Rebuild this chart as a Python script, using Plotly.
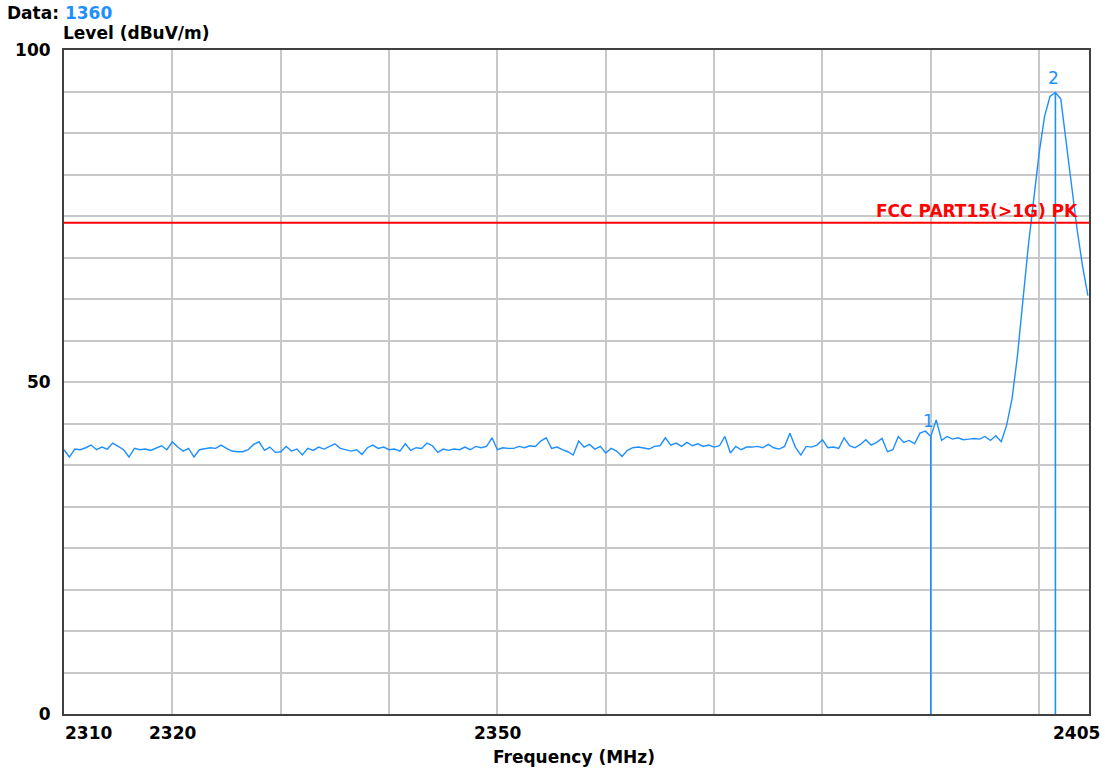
import plotly.graph_objects as go

# ---------------- data ----------------
sweep_start_mhz = 2310.0
sweep_step_mhz = 0.5

level_2310 = [39.8, 38.7, 39.9, 39.8, 40.1, 40.5, 39.8, 40.2, 39.9, 40.8,
              40.3, 39.8, 38.7, 40.0, 39.8, 39.9, 39.7, 40.1, 40.4, 39.8]
level_2320 = [41.0, 40.2, 39.6, 40.0, 38.7, 39.8, 39.9, 40.1, 40.0, 40.5,
              40.0, 39.6, 39.5, 39.5, 39.8, 40.6, 41.0, 39.7, 40.2, 39.4]
level_2330 = [39.5, 40.3, 39.6, 39.9, 39.0, 40.0, 39.7, 40.2, 39.9, 40.3,
              40.7, 40.0, 39.8, 39.6, 39.8, 39.1, 40.1, 40.5, 40.0, 40.2]
level_2340 = [39.8, 39.9, 39.6, 40.7, 39.7, 40.1, 40.0, 40.8, 40.4, 39.4,
              39.9, 39.7, 39.9, 39.8, 40.2, 39.8, 40.3, 40.1, 40.3, 41.6]
level_2350 = [39.8, 40.1, 40.0, 40.0, 40.3, 40.1, 40.4, 40.3, 41.1, 41.6,
              40.0, 40.2, 39.8, 39.5, 39.0, 41.1, 40.2, 40.6, 39.9, 40.3]
level_2360 = [39.3, 40.0, 39.6, 38.8, 39.7, 40.1, 40.2, 40.1, 39.9, 40.3,
              40.4, 41.6, 40.5, 40.8, 40.3, 40.9, 40.4, 40.7, 40.3, 40.5]
level_2370 = [40.2, 40.4, 41.8, 39.3, 40.3, 39.8, 40.2, 40.2, 40.3, 40.1,
              40.6, 40.1, 39.9, 40.3, 42.3, 40.2, 39.0, 40.3, 40.2, 40.5]
level_2380 = [41.3, 40.1, 40.2, 40.0, 41.6, 40.4, 40.1, 40.6, 41.3, 40.5,
              40.9, 41.5, 39.5, 39.8, 41.8, 40.9, 41.2, 40.7, 42.3, 42.6]
level_2390 = [41.8, 44.3, 41.2, 41.8, 41.4, 41.6, 41.3, 41.4, 41.5, 41.4,
              41.8, 41.2, 41.9, 41.0, 43.5, 47.5, 54.0, 62.3, 70.5, 77.5]
level_2400 = [84.5, 90.0, 93.0, 93.6, 92.6, 86.0, 79.5, 73.0, 67.5, 63.0]

level = (level_2310 + level_2320 + level_2330 + level_2340 + level_2350 +
         level_2360 + level_2370 + level_2380 + level_2390 + level_2400)
freq = [sweep_start_mhz + sweep_step_mhz * i for i in range(len(level))]

limit_name = "FCC PART15(>1G) PK"
limit_level = 74.0

marker_ids = ["1", "2"]
marker_freq = [2390.0, 2401.5]
marker_level = [41.8, 93.6]

x_range = [2310.0, 2404.6]
y_range = [0, 100]
x_grid = [2310, 2320, 2330, 2340, 2350, 2360, 2370, 2380, 2390, 2400]
y_grid = [0, 6.25, 12.5, 18.75, 25, 31.25, 37.5, 43.75, 50, 56.25, 62.5,
          68.75, 75, 81.25, 87.5, 93.75, 100]
x_tick_vals = [2310, 2320, 2350, 2405]
x_tick_text = ["2310", "2320", "2350", "2405"]
y_tick_vals = [0, 50, 100]
y_tick_text = ["0", "50", "100"]

data_label = "Data:"
data_number = "1360"
y_title = "Level (dBuV/m)"
x_title = "Frequency (MHz)"

# ---------------- style ----------------
FONT = "DejaVu Sans"
BLUE = "#1E8FFF"
RED = "#FF0000"
GRID = "#C8C8C8"
AXIS = "#404040"
LBL = dict(family=FONT, size=17, color="black", weight="bold")

fig = go.Figure()

fig.add_trace(go.Scatter(x=freq, y=level, mode="lines",
                         line=dict(color=BLUE, width=1.4), hoverinfo="skip"))

fig.add_trace(go.Scatter(x=x_range, y=[limit_level, limit_level], mode="lines",
                         line=dict(color=RED, width=2), hoverinfo="skip"))

for f, l in zip(marker_freq, marker_level):
    fig.add_trace(go.Scatter(x=[f, f], y=[y_range[0], l], mode="lines",
                             line=dict(color=BLUE, width=1.6), hoverinfo="skip"))

annotations = []
for mid, f, l in zip(marker_ids, marker_freq, marker_level):
    annotations.append(dict(x=f, y=l, xref="x", yref="y", text=mid,
                            showarrow=False, xanchor="center", yanchor="middle",
                            yshift=15, xshift=-2,
                            font=dict(family=FONT, size=17, color=BLUE)))

annotations.append(dict(x=0.991, y=limit_level, xref="x domain", yref="y",
                        text=limit_name, showarrow=False, xanchor="right",
                        yanchor="bottom", yshift=0,
                        font=dict(family=FONT, size=17, color=RED, weight="bold")))

last = len(x_tick_vals) - 1
for i, (v, t) in enumerate(zip(x_tick_vals, x_tick_text)):
    if i == 0:
        xv, anchor, xs = v, "left", -1
    elif i == last:
        xv, anchor, xs = x_range[1], "right", 13
    else:
        xv, anchor, xs = v, "center", 0
    annotations.append(dict(x=xv, y=0, xref="x", yref="paper", text=t,
                            showarrow=False, xanchor=anchor, yanchor="middle",
                            yshift=-19, xshift=xs, font=LBL))

annotations.append(dict(x=0.5, y=0, xref="paper", yref="paper", text=x_title,
                        showarrow=False, xanchor="center", yanchor="middle",
                        yshift=-43, xshift=-3, font=LBL))
annotations.append(dict(x=0, y=1, xref="paper", yref="paper", text=y_title,
                        showarrow=False, xanchor="left", yanchor="middle",
                        xshift=-3, yshift=17, font=LBL))
annotations.append(dict(x=0, y=1, xref="paper", yref="paper",
                        text=data_label + " <span style='color:%s'>%s</span>" % (BLUE, data_number),
                        showarrow=False, xanchor="left", yanchor="middle",
                        xshift=-59, yshift=37, font=LBL))

y_ticktext = [y_tick_text[y_tick_vals.index(v)] if v in y_tick_vals else "" for v in y_grid]

fig.update_layout(
    width=1105, height=773,
    margin=dict(l=64, r=16, t=50, b=59, pad=0),
    paper_bgcolor="white", plot_bgcolor="white",
    showlegend=False,
    hovermode=False,
    annotations=annotations,
    xaxis=dict(range=x_range, tickmode="array", tickvals=x_grid,
               showticklabels=False, ticks="", showgrid=True,
               gridcolor=GRID, gridwidth=1.5, zeroline=False,
               showline=True, mirror=True, linecolor=AXIS, linewidth=2),
    yaxis=dict(range=y_range, tickmode="array", tickvals=y_grid,
               ticktext=y_ticktext, ticks="", ticklabelstandoff=8,
               tickfont=LBL, showgrid=True, gridcolor=GRID, gridwidth=1.5,
               zeroline=False, showline=True, mirror=True,
               linecolor=AXIS, linewidth=2),
)

fig.write_html("out.html", config={"displayModeBar": False},
               post_script="document.body.style.margin='0';document.body.style.overflow='hidden';")
